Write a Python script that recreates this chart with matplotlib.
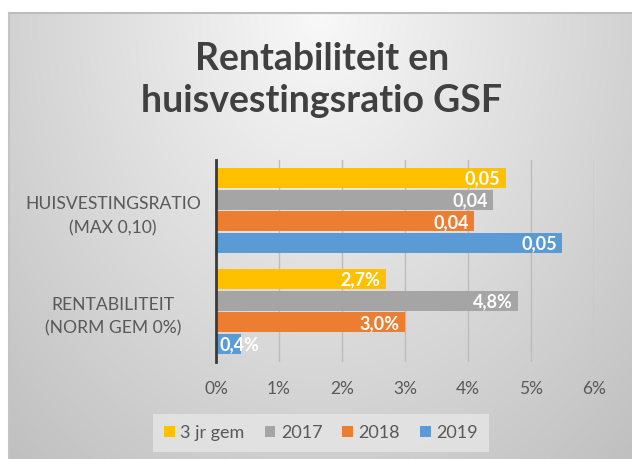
import numpy as np
import matplotlib
matplotlib.use("Agg")
import matplotlib.pyplot as plt
from matplotlib.ticker import FuncFormatter

plt.rcParams['font.family'] = ['Lato', 'DejaVu Sans']

# data
categories = ['HUISVESTINGSRATIO\n(MAX 0,10)', 'RENTABILITEIT\n(NORM GEM 0%)']
series = ['3 jr gem', '2017', '2018', '2019']
colors = ['#FFC000', '#A5A5A5', '#ED7D31', '#5B9BD5']
huisvesting = [0.046, 0.044, 0.041, 0.055]
rentabiliteit = [0.027, 0.048, 0.030, 0.004]
huis_labels = ['0,05', '0,04', '0,04', '0,05']
rent_labels = ['2,7%', '4,8%', '3,0%', '0,4%']
xticks = [0, 0.01, 0.02, 0.03, 0.04, 0.05, 0.06]

W, H = 632, 459
fig = plt.figure(figsize=(W / 100, H / 100), dpi=100)
fig.patch.set_facecolor('white')

# chart area background (radial gradient like the office chart style)
bg = fig.add_axes([9 / W, 0, 1 - 9 / W, 1 - 13 / H])
gx, gy = np.meshgrid(np.linspace(-1, 1, 300), np.linspace(0, 1, 220))
d = np.clip(np.sqrt((gx * 0.95) ** 2 + (gy * 1.05) ** 2), 0, 1.4) / 1.4
shade = 0.975 - 0.22 * d
bg.imshow(np.dstack([shade, shade, shade]), aspect='auto',
          extent=[0, 1, 0, 1], origin='upper')
bg.set_xlim(0, 1)
bg.set_ylim(0, 1)
bg.axis('off')
fig.add_artist(plt.Line2D([9 / W, 1], [1 - 13 / H, 1 - 13 / H],
                          color='#bdbdbd', lw=1.5))
fig.add_artist(plt.Line2D([9 / W, 9 / W], [0, 1 - 13 / H],
                          color='#c4c4c4', lw=1.5))

fig.text(322 / W, 1 - 59 / H, 'Rentabiliteit en', ha='center', va='center',
         fontsize=27, fontweight='bold', color='#404040')
fig.text(322 / W, 1 - 101 / H, 'huisvestingsratio GSF', ha='center', va='center',
         fontsize=27, fontweight='bold', color='#404040')

ax = fig.add_axes([216 / W, 1 - 362 / H, (594 - 216) / W, 202 / H])
ax.set_facecolor('none')

bar_h = 0.213
y = np.arange(len(categories))
handles = []
for i, name in enumerate(series):
    vals = [huisvesting[i], rentabiliteit[i]]
    labs = [huis_labels[i], rent_labels[i]]
    pos = y + (i - 1.5) * bar_h
    b = ax.barh(pos, vals, height=bar_h * 0.93, color=colors[i], label=name,
                zorder=3)
    handles.append(b)
    for p, v, t in zip(pos, vals, labs):
        if v < 0.01:
            ax.text(0.0005, p + 0.01, t, ha='left', va='center', color='white',
                    fontsize=13, fontweight='bold', zorder=4)
        else:
            ax.text(v - 0.0009, p + 0.01, t, ha='right', va='center',
                    color='white', fontsize=13, fontweight='bold', zorder=4)

ax.set_xlim(0, 0.06)
ax.set_ylim(1.5, -0.5)
ax.set_xticks(xticks)
ax.xaxis.set_major_formatter(FuncFormatter(lambda v, p: f'{v * 100:.0f}%'))
ax.grid(axis='x', color='#bcbcbc', lw=1, zorder=0)
ax.tick_params(axis='x', length=0, pad=14, labelsize=12.5, labelcolor='#595959')
ax.set_yticks(y)
ax.set_yticklabels(categories, ha='center', linespacing=1.6)
ax.tick_params(axis='y', length=0, pad=74, labelsize=12.6, labelcolor='#595959')
for s in ['top', 'right', 'bottom']:
    ax.spines[s].set_visible(False)
ax.spines['left'].set_color('#3a3a3a')
ax.spines['left'].set_linewidth(2)
ax.spines['left'].set_zorder(5)

leg = fig.legend(handles=handles, loc='center', ncol=4,
                 bbox_to_anchor=(321 / W, 1 - 433 / H), fontsize=13,
                 frameon=True, fancybox=False, handlelength=0.6,
                 handleheight=0.6, handletextpad=0.3, columnspacing=1.1,
                 borderpad=0.6)
leg.get_frame().set_facecolor('#e6e6e6')
leg.get_frame().set_alpha(0.8)
leg.get_frame().set_edgecolor('none')
for t in leg.get_texts():
    t.set_color('#595959')

fig.savefig('out.png', dpi=100)
